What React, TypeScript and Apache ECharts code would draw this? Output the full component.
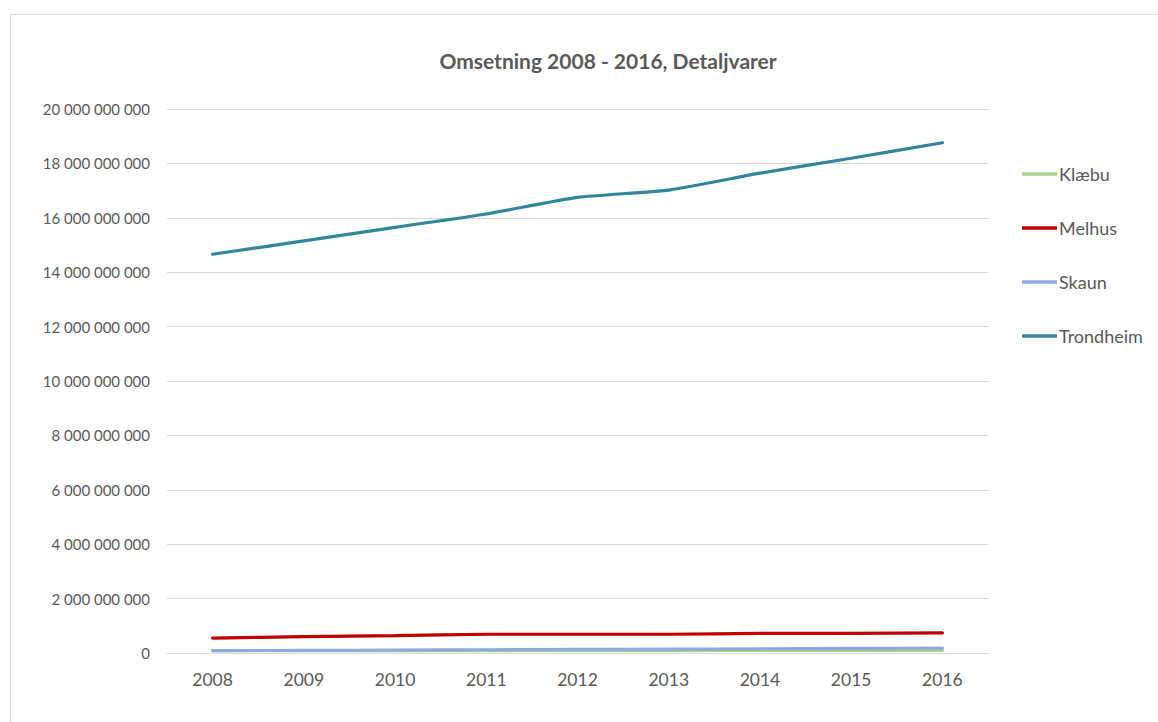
import React, { useEffect, useRef } from "react";
import * as echarts from "echarts";

const years = ["2008", "2009", "2010", "2011", "2012", "2013", "2014", "2015", "2016"];
const klaebu = [90e6, 85e6, 85e6, 90e6, 90e6, 90e6, 95e6, 95e6, 100e6];
const melhus = [550e6, 600e6, 640e6, 690e6, 690e6, 690e6, 720e6, 725e6, 740e6];
const skaun = [90e6, 95e6, 105e6, 120e6, 130e6, 140e6, 155e6, 170e6, 180e6];
const trondheim = [14.66e9, 15.15e9, 15.65e9, 16.14e9, 16.75e9, 17.02e9, 17.64e9, 18.19e9, 18.76e9];
const yTicks = { min: 0, max: 20e9, interval: 2e9 };

const FONT = "Lato, 'Open Sans', sans-serif";
const fmt = (v: number) => String(Math.round(v)).replace(/\B(?=(\d{3})+(?!\d))/g, " ");

export default function App() {
  const ref = useRef<HTMLDivElement>(null);
  useEffect(() => {
    if (!ref.current) return;
    const chart = echarts.init(ref.current, null, { renderer: "svg" });
    const mk = (name: string, data: number[], color: string) => ({
      name,
      type: "line",
      data,
      symbol: "none",
      smooth: 0.2,
      lineStyle: { color, width: 3.2, cap: "round" },
      itemStyle: { color },
    });
    chart.setOption({
      animation: false,
      backgroundColor: "#ffffff",
      textStyle: { fontFamily: FONT },
      graphic: [
        {
          type: "rect",
          shape: { x: 10.5, y: 14.5, width: 1300, height: 900 },
          style: { fill: "none", stroke: "#D9D9D9", lineWidth: 1 },
          silent: true,
        },
      ],
      title: {
        text: "Omsetning 2008 - 2016, Detaljvarer",
        left: 603,
        top: 45,
        textAlign: "center",
        textStyle: { fontFamily: FONT, fontSize: 21, fontWeight: "bold", color: "#595959" },
      },
      legend: {
        orient: "vertical",
        left: 1022,
        top: 164,
        padding: 0,
        icon: "rect",
        itemWidth: 35,
        itemHeight: 3.5,
        itemGap: 34,
        textStyle: { fontFamily: FONT, fontSize: 18, lineHeight: 20, color: "#595959", padding: [0, 0, 0, -3] },
        data: ["Klæbu", "Melhus", "Skaun", "Trondheim"],
      },
      grid: { left: 167, right: 170, top: 109, bottom: 69 },
      xAxis: {
        type: "category",
        data: years,
        boundaryGap: true,
        axisLine: { lineStyle: { color: "#D9D9D9", width: 1 } },
        axisTick: { show: false },
        axisLabel: { color: "#595959", fontSize: 17.5, fontFamily: FONT, margin: 17 },
      },
      yAxis: {
        type: "value",
        min: yTicks.min,
        max: yTicks.max,
        interval: yTicks.interval,
        axisLine: { show: false },
        axisTick: { show: false },
        splitLine: { lineStyle: { color: "#D9D9D9", width: 1 } },
        axisLabel: { color: "#595959", fontSize: 15, fontFamily: FONT, margin: 17, formatter: fmt },
      },
      series: [
        mk("Klæbu", klaebu, "#A9D18E"),
        mk("Melhus", melhus, "#C00000"),
        mk("Skaun", skaun, "#8FAADC"),
        mk("Trondheim", trondheim, "#31859C"),
      ],
    });
    return () => chart.dispose();
  }, []);
  return (
    <div
      ref={ref}
      style={{ position: "fixed", left: 0, top: 0, width: 1158, height: 722, background: "#fff" }}
    />
  );
}
